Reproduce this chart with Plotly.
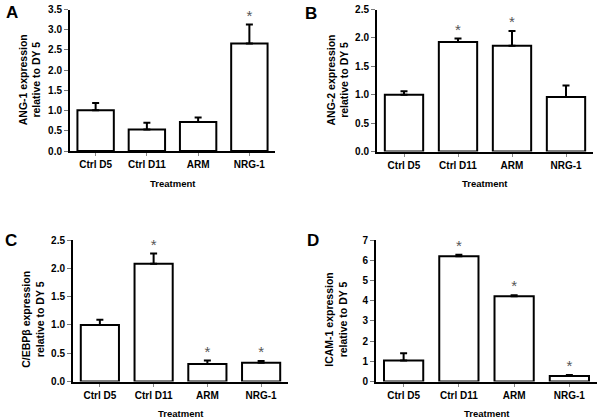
import plotly.graph_objects as go

categories = ["Ctrl D5", "Ctrl D11", "ARM", "NRG-1"]

ang1_vals = [1.01, 0.53, 0.72, 2.66]
ang1_err = [0.18, 0.17, 0.11, 0.47]
ang1_sig = [False, False, False, True]

ang2_vals = [1.00, 1.93, 1.86, 0.96]
ang2_err = [0.06, 0.06, 0.26, 0.20]
ang2_sig = [False, True, True, False]

cebpb_vals = [1.00, 2.08, 0.31, 0.33]
cebpb_err = [0.09, 0.18, 0.06, 0.03]
cebpb_sig = [False, True, True, True]

icam_vals = [1.04, 6.20, 4.22, 0.27]
icam_err = [0.36, 0.07, 0.05, 0.05]
icam_sig = [False, True, True, True]

W, H = 600, 420

panels = [
    dict(letter="A", vals=ang1_vals, err=ang1_err, sig=ang1_sig,
         ytitle="ANG-1 expression<br>relative to DY 5", yrange=[0, 3.5], dtick=0.5, fmt=".1f",
         px=(70, 275), py=(9.5, 151), letter_xy=(4, 12.5), title_dy=0),
    dict(letter="B", vals=ang2_vals, err=ang2_err, sig=ang2_sig,
         ytitle="ANG-2 expression<br>relative to DY 5", yrange=[0, 2.5], dtick=0.5, fmt=".1f",
         px=(377, 593), py=(9.5, 151.5), letter_xy=(303, 13), title_dy=0),
    dict(letter="C", vals=cebpb_vals, err=cebpb_err, sig=cebpb_sig,
         ytitle="C/EBPβ expression<br>relative to DY 5", yrange=[0, 2.5], dtick=0.5, fmt=".1f",
         px=(73, 288), py=(240, 381.5), letter_xy=(3, 241), title_dy=9),
    dict(letter="D", vals=icam_vals, err=icam_err, sig=icam_sig,
         ytitle="ICAM-1 expression<br>relative to DY 5", yrange=[0, 7], dtick=1, fmt="d",
         px=(376, 597), py=(240, 381.5), letter_xy=(305, 241), title_dy=9),
]

fig = go.Figure()
annotations = []
font_fam = "Liberation Sans, Arial, sans-serif"

for i, p in enumerate(panels, start=1):
    xa = "x" if i == 1 else f"x{i}"
    ya = "y" if i == 1 else f"y{i}"
    fig.add_trace(go.Bar(
        x=categories, y=p["vals"], xaxis=xa, yaxis=ya, width=0.71,
        marker=dict(color="white", line=dict(color="black", width=2)),
        error_y=dict(type="data", array=p["err"], arrayminus=[0] * len(p["err"]),
                     symmetric=False, color="black", thickness=2, width=3.5),
        showlegend=False, hoverinfo="skip",
    ))
    star_x = [c for c, s in zip(categories, p["sig"]) if s]
    star_y = [v + e for v, e, s in zip(p["vals"], p["err"], p["sig"]) if s]
    fig.add_trace(go.Scatter(
        x=star_x, y=star_y, xaxis=xa, yaxis=ya, mode="text", text=["*"] * len(star_x),
        textposition="top center", textfont=dict(size=15, color="#555555", family=font_fam),
        showlegend=False, hoverinfo="skip", cliponaxis=False,
    ))
    xd = [p["px"][0] / W, p["px"][1] / W]
    yd = [1 - p["py"][1] / H, 1 - p["py"][0] / H]
    key = "" if i == 1 else str(i)
    fig.layout["xaxis" + key] = dict(
        domain=xd, anchor=ya, range=[-0.5, 3.5], showline=True, linecolor="black", linewidth=2,
        ticks="outside", ticklen=3, tickcolor="#888888", tickwidth=1, automargin=False,
        tickfont=dict(size=10, family=font_fam, color="black", weight="bold"),
        showgrid=False, zeroline=False, fixedrange=True,
    )
    fig.layout["yaxis" + key] = dict(
        domain=yd, anchor=xa, range=p["yrange"], dtick=p["dtick"], tick0=0, tickformat=p["fmt"],
        showline=True, linecolor="black", linewidth=2, automargin=False,
        ticks="outside", ticklen=4, tickcolor="#777777", tickwidth=1,
        tickfont=dict(size=10, family=font_fam, color="black", weight="bold"),
        showgrid=False, zeroline=False, fixedrange=True,
    )
    # panel letter
    annotations.append(dict(
        text="<b>" + p["letter"] + "</b>", x=p["letter_xy"][0] / W, y=1 - p["letter_xy"][1] / H,
        xref="paper", yref="paper", showarrow=False, xanchor="left", yanchor="middle",
        font=dict(size=17, family=font_fam, color="black"),
    ))
    # y-axis title
    yc = (p["py"][0] + p["py"][1]) / 2 + p["title_dy"]
    annotations.append(dict(
        text="<b>" + p["ytitle"] + "</b>", x=(p["px"][0] - 40) / W, y=1 - yc / H,
        xref="paper", yref="paper", showarrow=False, xanchor="center", yanchor="middle",
        textangle=-90, font=dict(size=10.5, family=font_fam, color="black"),
    ))
    # x-axis title
    annotations.append(dict(
        text="<b>Treatment</b>", x=(p["px"][0] + p["px"][1]) / 2 / W, y=1 - (p["py"][1] + 32) / H,
        xref="paper", yref="paper", showarrow=False, xanchor="center", yanchor="middle",
        font=dict(size=9.5, family=font_fam, color="black"),
    ))

fig.update_layout(
    width=W, height=H, margin=dict(l=0, r=0, t=0, b=0),
    paper_bgcolor="white", plot_bgcolor="white", bargap=0.29,
    annotations=annotations,
)

fig.write_html(
    "out.html",
    config={"displayModeBar": False},
    post_script="document.body.style.margin='0';document.body.style.overflow='hidden';",
)
